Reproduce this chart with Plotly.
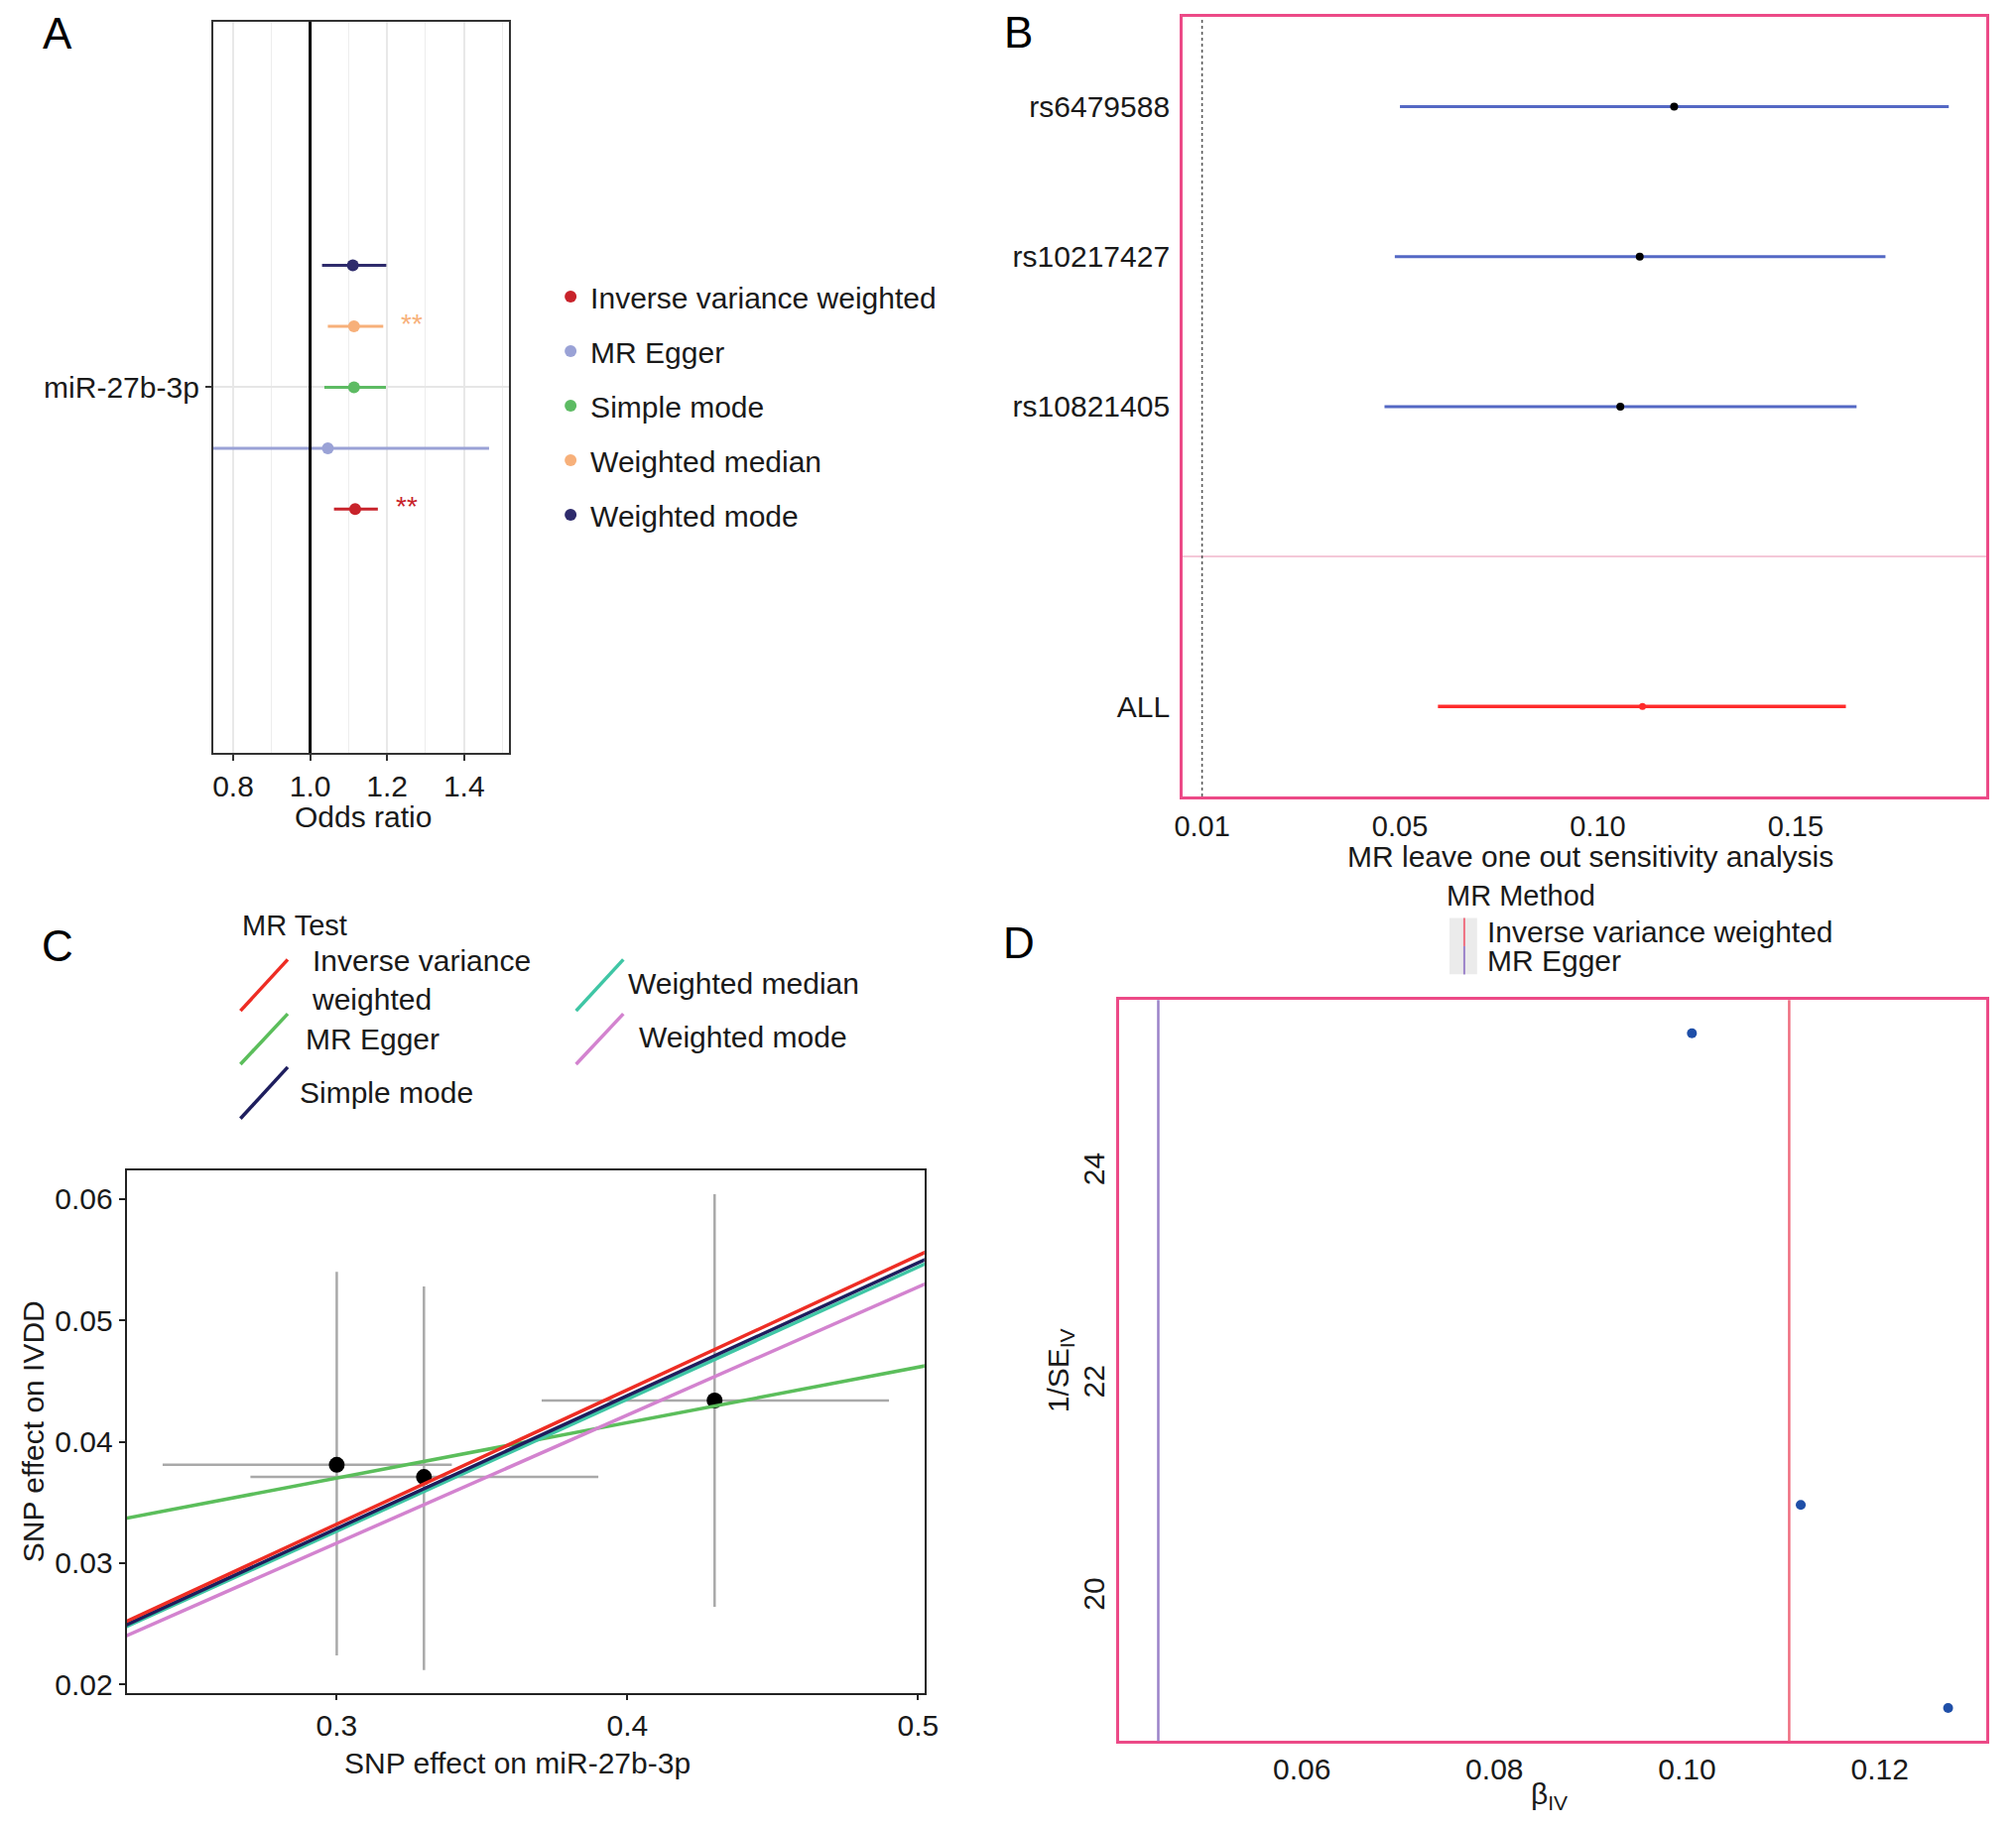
import numpy as np
import plotly.graph_objects as go

# ---- A: estimativas MR (odds ratio) ----
metodos = ['Inverse variance weighted', 'MR Egger', 'Simple mode',
           'Weighted median', 'Weighted mode']
or_val = [1.117, 1.046, 1.114, 1.114, 1.111]
or_lo = [1.062, 0.70, 1.037, 1.046, 1.031]
or_hi = [1.176, 1.465, 1.197, 1.190, 1.198]
estrelas = ['**', '', '', '**', '']
exposicao = ['miR-27b-3p']
cores_a = ['#C8232B', '#9AA2D6', '#5DBB63', '#F7B07A', '#2E2B6C']

# ---- B: leave one out ----
snps = ['rs6479588', 'rs10217427', 'rs10821405']
loo_b = [0.1193, 0.1106, 0.1057]
loo_lo = [0.0500, 0.0487, 0.0461]
loo_hi = [0.1887, 0.1727, 0.1654]
all_b = [0.1113]
all_lo = [0.0596]
all_hi = [0.1627]
ticks_b = [0, 0.05, 0.10, 0.15]
ticks_b_txt = ['0.01', '0.05', '0.10', '0.15']

# ---- C: scatter SNP ----
snp_x = [0.300, 0.330, 0.430]
snp_y = [0.0381, 0.0371, 0.0434]
snp_x_lo = [0.2401, 0.2703, 0.3705]
snp_x_hi = [0.3396, 0.3900, 0.4900]
snp_y_lo = [0.0224, 0.0212, 0.0264]
snp_y_hi = [0.0540, 0.0528, 0.0604]
testes = ['Inverse variance weighted', 'MR Egger', 'Simple mode',
          'Weighted median', 'Weighted mode']
inclinacao = [0.1107, 0.0457, 0.1095, 0.1088, 0.1055]
intercepto = [0.0, 0.0233, 0.0, 0.0, 0.0]
cores_c = ['#EE2D24', '#5BBE5B', '#1E1E5E', '#3FC6A5', '#D383CF']

# ---- D: funnel ----
beta_iv = [0.1005, 0.1118, 0.1271]
inv_se = [25.32, 20.88, 18.97]
metodos_d = ['Inverse variance weighted', 'MR Egger']
beta_d = [0.1106, 0.0451]
cores_d = ['#EF6F80', '#9B82C9']

FONTE = 'Liberation Sans'
TXT = '#1a1a1a'
ROSA = '#EC4A87'

fig = go.Figure()

# A
dodge = np.arange(len(metodos)) - (len(metodos) - 1) / 2
for i, m in enumerate(metodos):
    fig.add_trace(go.Scatter(
        x=[or_val[i]], y=[dodge[i]], mode='markers', name=m, legendgroup=m,
        marker=dict(color=cores_a[i], size=12),
        error_x=dict(type='data', symmetric=False, array=[or_hi[i] - or_val[i]],
                     arrayminus=[or_val[i] - or_lo[i]], color=cores_a[i],
                     thickness=3, width=0),
        xaxis='x', yaxis='y'))

# B
pos_snp = list(np.arange(len(snps), 0, -1) + 2)
fig.add_trace(go.Scatter(
    x=loo_b, y=pos_snp, mode='markers', showlegend=False,
    marker=dict(color='black', size=8),
    error_x=dict(type='data', symmetric=False,
                 array=list(np.array(loo_hi) - np.array(loo_b)),
                 arrayminus=list(np.array(loo_b) - np.array(loo_lo)),
                 color='#5468C4', thickness=3, width=0),
    xaxis='x2', yaxis='y2'))
fig.add_trace(go.Scatter(
    x=all_b, y=[1], mode='markers', showlegend=False,
    marker=dict(color='#FF2B2B', size=7),
    error_x=dict(type='data', symmetric=False,
                 array=[all_hi[0] - all_b[0]], arrayminus=[all_b[0] - all_lo[0]],
                 color='#FF2B2B', thickness=3.5, width=0),
    xaxis='x2', yaxis='y2'))

# C
fig.add_trace(go.Scatter(
    x=snp_x, y=snp_y, mode='markers', showlegend=False,
    marker=dict(color='black', size=16),
    error_x=dict(type='data', symmetric=False,
                 array=list(np.array(snp_x_hi) - np.array(snp_x)),
                 arrayminus=list(np.array(snp_x) - np.array(snp_x_lo)),
                 color='#A9A9A9', thickness=2.5, width=0),
    error_y=dict(type='data', symmetric=False,
                 array=list(np.array(snp_y_hi) - np.array(snp_y)),
                 arrayminus=list(np.array(snp_y) - np.array(snp_y_lo)),
                 color='#A9A9A9', thickness=2.5, width=0),
    xaxis='x3', yaxis='y3'))
xs = np.array([0.2, 0.55])
for i in [1, 3, 4, 2, 0]:
    fig.add_trace(go.Scatter(
        x=xs, y=intercepto[i] + inclinacao[i] * xs, mode='lines', showlegend=False,
        line=dict(color=cores_c[i], width=3.5), name=testes[i],
        xaxis='x3', yaxis='y3'))

# D
fig.add_trace(go.Scatter(
    x=beta_iv, y=inv_se, mode='markers', showlegend=False,
    marker=dict(color='#1F4FA8', size=10), xaxis='x4', yaxis='y4'))

shapes = []
shapes.append(dict(type='line', xref='x', yref='y domain', x0=1.0, x1=1.0, y0=0, y1=1,
                   line=dict(color='black', width=3)))
shapes.append(dict(type='line', xref='x2 domain', yref='y2', x0=0, x1=1, y0=2, y1=2,
                   line=dict(color='#F4C8D8', width=2), layer='below'))
shapes.append(dict(type='line', xref='x2', yref='y2 domain', x0=0, x1=0, y0=0, y1=1,
                   line=dict(color='#555555', width=1.5, dash='dot')))
for b, c in zip(beta_d, cores_d):
    shapes.append(dict(type='line', xref='x4', yref='y4 domain', x0=b, x1=b, y0=0, y1=1,
                       line=dict(color=c, width=2.5)))

annotations = []
for txt, x, y in [('A', 0.0251, 0.9816), ('B', 0.5069, 0.9821),
                  ('C', 0.0251, 0.4810), ('D', 0.5069, 0.4826)]:
    annotations.append(dict(text=txt, x=x, y=y, xref='paper', yref='paper',
                            xanchor='center', yanchor='middle',
                            showarrow=False, font=dict(size=44, color='black')))
for i, s in enumerate(estrelas):
    if s:
        annotations.append(dict(text=s, x=or_hi[i], y=dodge[i], xref='x', yref='y',
                                xanchor='left', yanchor='middle', xshift=16, yshift=3,
                                showarrow=False, font=dict(size=28, color=cores_a[i])))

# titulos dos eixos
titulos = [
    dict(text='Odds ratio', x=0.1781, y=0.5515),
    dict(text='MR leave one out sensitivity analysis', x=0.7933, y=0.5300),
    dict(text='SNP effect on miR-27b-3p', x=0.2554, y=0.0325),
    dict(text='SNP effect on IVDD', x=0.0128, y=0.2142, textangle=-90),
    dict(text='β<sub>IV</sub>', x=0.7731, y=0.0146),
    dict(text='1/SE<sub>IV</sub>', x=0.5276, y=0.2478, textangle=-90),
]
for a in titulos:
    a.update(xref='paper', yref='paper', xanchor='center', yanchor='middle',
             showarrow=False, font=dict(size=30, color=TXT))
annotations += titulos

# legenda C (chaves inclinadas)
annotations.append(dict(text='MR Test', x=0.1166, y=0.4919, xref='paper', yref='paper',
                        xanchor='left', yanchor='middle', showarrow=False,
                        font=dict(size=29, color=TXT)))
leg_c = [  # (teste, chave x0, x1, y base, y topo, texto x, texto y)
    ('Inverse variance weighted', 0.1166, 0.1403, 0.4452, 0.4734, 0.1511, 0.4620),
    ('MR Egger', 0.1166, 0.1403, 0.4159, 0.4436, 0.1481, 0.4300),
    ('Simple mode', 0.1166, 0.1403, 0.3861, 0.4143, 0.1452, 0.4002),
    ('Weighted median', 0.2849, 0.3086, 0.4452, 0.4734, 0.3100, 0.4604),
    ('Weighted mode', 0.2849, 0.3086, 0.4159, 0.4436, 0.3155, 0.4311),
]
for nome, x0, x1, yb, yt, tx, ty in leg_c:
    c = cores_c[testes.index(nome)]
    shapes.append(dict(type='line', xref='paper', yref='paper', x0=x0, x1=x1, y0=yb, y1=yt,
                       line=dict(color=c, width=3.5)))
    rot = nome.replace('variance weighted', 'variance<br>weighted')
    annotations.append(dict(text=rot, x=tx, y=ty, xref='paper', yref='paper', xanchor='left',
                            yanchor='middle', align='left', showarrow=False,
                            font=dict(size=30, color=TXT)))

# legenda D
annotations.append(dict(text='MR Method', x=0.7205, y=0.5087, xref='paper', yref='paper',
                        xanchor='left', yanchor='middle', showarrow=False,
                        font=dict(size=29, color=TXT)))
shapes.append(dict(type='rect', xref='paper', yref='paper', x0=0.7229, x1=0.7367,
                   y0=0.4653, y1=0.4962, fillcolor='#EBEBEB', line=dict(width=0)))
for k, (nome, c) in enumerate(zip(metodos_d, cores_d)):
    y1 = 0.4962 - k * 0.0155
    shapes.append(dict(type='line', xref='paper', yref='paper', x0=0.7303, x1=0.7303,
                       y0=y1 - 0.0155, y1=y1, line=dict(color=c, width=2)))
    annotations.append(dict(text=nome, x=0.7406, y=y1 - 0.0078, xref='paper', yref='paper',
                            xanchor='left', yanchor='middle', showarrow=False,
                            font=dict(size=30, color=TXT)))

eixo = dict(showgrid=False, zeroline=False, tickfont=dict(size=30, color=TXT))

fig.update_layout(
    width=2032, height=1844, margin=dict(l=0, r=0, t=0, b=0),
    paper_bgcolor='white', plot_bgcolor='white',
    font=dict(family=FONTE, color=TXT),
    showlegend=True,
    legend=dict(x=0.2722, y=0.8514, xanchor='left', yanchor='top', font=dict(size=30, color=TXT),
                traceorder='grouped', tracegroupgap=13, itemsizing='constant',
                bgcolor='rgba(0,0,0,0)'),
    xaxis=dict(eixo, domain=[0.1029, 0.2510], range=[0.748, 1.5154], tick0=0.8, dtick=0.2,
               tickformat='.1f', showgrid=True, gridcolor='#E8E8E8', gridwidth=1.5,
               minor=dict(dtick=0.1, showgrid=True, gridcolor='#EDEDED', gridwidth=1.2),
               showline=True, mirror=True, linecolor='#333333', linewidth=2,
               ticks='outside', ticklen=6, tickcolor='#333333', tickwidth=1.5),
    yaxis=dict(eixo, domain=[0.5868, 0.9881], range=[-6.0, 6.0], anchor='x',
               tickvals=[0], ticktext=exposicao, showgrid=True, gridcolor='#E6E6E6',
               gridwidth=2, showline=True, mirror=True, linecolor='#333333', linewidth=2,
               ticks='outside', ticklen=6, tickcolor='#333333', tickwidth=1.5),
    xaxis2=dict(eixo, domain=[0.5891, 0.9921], range=[-0.0049, 0.1982], anchor='y2',
                tickvals=ticks_b, ticktext=ticks_b_txt, tickfont=dict(size=29, color=TXT),
                showline=True, mirror=True, linecolor=ROSA, linewidth=3,
                ticks='outside', ticklen=2, tickcolor='rgba(0,0,0,0)'),
    yaxis2=dict(eixo, domain=[0.5629, 0.9908], range=[0.4, 5.6], anchor='x2',
                tickvals=pos_snp + [1], ticktext=snps + ['ALL'], showline=True, mirror=True,
                linecolor=ROSA, linewidth=3, ticks='outside', ticklen=4,
                tickcolor='rgba(0,0,0,0)'),
    xaxis3=dict(eixo, domain=[0.0595, 0.4596], range=[0.2277, 0.5022], anchor='y3',
                tickvals=[0.3, 0.4, 0.5], tickformat='.1f', showline=True, mirror=True,
                linecolor='#222222', linewidth=2, ticks='outside', ticklen=5,
                tickwidth=2, tickcolor='#222222'),
    yaxis3=dict(eixo, domain=[0.0705, 0.3579], range=[0.01925, 0.0624], anchor='x3',
                tickvals=[0.02, 0.03, 0.04, 0.05, 0.06], tickformat='.2f', showline=True,
                mirror=True, linecolor='#222222', linewidth=2, ticks='outside', ticklen=6,
                tickwidth=2, tickcolor='#222222'),
    xaxis4=dict(eixo, domain=[0.5571, 0.9921], range=[0.04101, 0.13107], anchor='y4',
                tickvals=[0.06, 0.08, 0.10, 0.12], tickformat='.2f', showline=True,
                mirror=True, linecolor=ROSA, linewidth=3, ticks=''),
    yaxis4=dict(eixo, domain=[0.0445, 0.4512], range=[18.659, 25.633], anchor='x4',
                tickvals=[20, 22, 24], tickangle=-90, showline=True, mirror=True,
                linecolor=ROSA, linewidth=3, ticks=''),
    shapes=shapes, annotations=annotations,
)

fig.write_html('out.html', config={'displayModeBar': False},
               post_script="document.body.style.margin='0';")
